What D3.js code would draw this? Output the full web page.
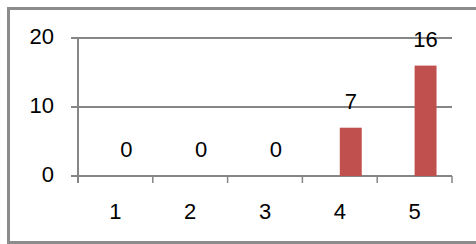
<!DOCTYPE html>
<html>
<head>
<meta charset="utf-8">
<script src="https://cdnjs.cloudflare.com/ajax/libs/d3/7.8.5/d3.min.js"></script>
<style>
    body { margin: 0; background: #fff; }
    text { font-family: "Liberation Sans", Arial, sans-serif; font-size: 22px; fill: #000; }
</style>
</head>
<body>
<svg id="chart" width="476" height="244"></svg>
<script>
var categories = ['1', '2', '3', '4', '5'];
var series     = ['blank', 'count'];
var values     = [0, 0, 0, 7, 16];
var yTicks     = [0, 10, 20];

var svg = d3.select('#chart');

// outer frame, right edge runs off the picture
svg.append('rect')
    .attr('x', 8.5).attr('y', 8.5)
    .attr('width', 480).attr('height', 234)
    .attr('fill', 'none')
    .attr('stroke', '#8c8c8c')
    .attr('stroke-width', 3)
;

var plot = { left: 78, right: 452, top: 38, bottom: 176 };

var x = d3.scaleBand()
    .domain(categories)
    .range([plot.left, plot.right])
;

// two slots per category, the first series is empty
var xs = d3.scaleBand()
    .domain(series)
    .range([0, x.bandwidth()])
    .paddingInner(0)
    .paddingOuter(0.705)
;

var y = d3.scaleLinear()
    .domain([0, 20])
    .range([plot.bottom, plot.top])
;

// gridlines + left ticks
svg.append('g')
    .selectAll('line')
    .data(yTicks)
    .enter().append('line')
    .attr('x1', plot.left - 7)
    .attr('x2', plot.right)
    .attr('y1', d => y(d))
    .attr('y2', d => y(d))
    .attr('stroke', '#868686')
    .attr('stroke-width', 2)
;

// y axis line
svg.append('line')
    .attr('x1', plot.left).attr('x2', plot.left)
    .attr('y1', plot.top).attr('y2', plot.bottom + 7)
    .attr('stroke', '#868686')
    .attr('stroke-width', 2)
;

// x ticks at category boundaries
svg.append('g')
    .selectAll('line')
    .data(categories.slice(1).concat(['end']))
    .enter().append('line')
    .attr('x1', d => d === 'end' ? plot.right : x(d))
    .attr('x2', d => d === 'end' ? plot.right : x(d))
    .attr('y1', plot.bottom)
    .attr('y2', plot.bottom + 7)
    .attr('stroke', '#868686')
    .attr('stroke-width', 1.5)
;

// y labels
svg.append('g')
    .selectAll('text')
    .data(yTicks)
    .enter().append('text')
    .attr('x', 54)
    .attr('y', d => y(d) + 6)
    .attr('text-anchor', 'end')
    .text(d => d)
;

// x labels
svg.append('g')
    .selectAll('text')
    .data(categories)
    .enter().append('text')
    .attr('x', d => x(d) + x.bandwidth() / 2)
    .attr('y', 219)
    .attr('text-anchor', 'middle')
    .text(d => d)
;

// bars
svg.append('g')
    .selectAll('rect')
    .data(values)
    .enter().append('rect')
    .attr('x', (d, i) => x(categories[i]) + xs('count'))
    .attr('width', xs.bandwidth())
    .attr('y', d => y(d))
    .attr('height', d => y(0) - y(d))
    .attr('fill', '#c0504d')
;

// value labels
svg.append('g')
    .selectAll('text')
    .data(values)
    .enter().append('text')
    .attr('x', (d, i) => x(categories[i]) + xs('count') + xs.bandwidth() / 2)
    .attr('y', d => y(d) - 19)
    .attr('text-anchor', 'middle')
    .text(d => d)
;
</script>
</body>
</html>
